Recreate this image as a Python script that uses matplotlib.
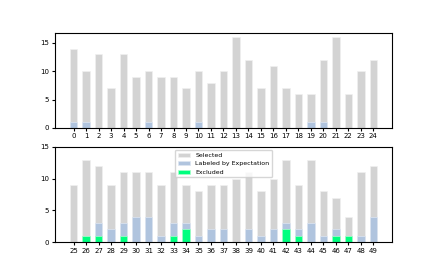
import matplotlib
matplotlib.use('Agg')
import matplotlib.pyplot as plt
import numpy as np

## data
ids_top = list(range(0, 25))
selected_top = [14, 10, 13, 7, 13, 9, 10, 9, 9, 7, 10, 8, 10, 16, 12, 7, 11, 7, 6, 6, 12, 16, 6, 10, 12]
expect_top = [1, 1, 0, 0, 0, 0, 1, 0, 0, 0, 1, 0, 0, 0, 0, 0, 0, 0, 0, 1, 1, 0, 0, 0, 0]
excluded_top = [0] * 25

ids_bot = list(range(25, 50))
selected_bot = [9, 13, 12, 9, 11, 11, 11, 9, 11, 9, 8, 9, 9, 10, 11, 8, 10, 13, 9, 13, 8, 7, 4, 11, 12]
expect_bot = [0, 1, 3, 2, 3, 4, 4, 1, 3, 3, 1, 2, 2, 0, 2, 1, 2, 3, 2, 3, 1, 2, 1, 1, 4]
excluded_bot = [0, 1, 1, 0, 1, 0, 0, 0, 1, 2, 0, 0, 0, 0, 0, 0, 0, 2, 1, 0, 0, 1, 1, 0, 0]

plt.rcParams['font.size'] = 5

fig, (ax1, ax2) = plt.subplots(2, 1, figsize=(4.36, 2.72), dpi=100)

for ax, ids, sel, exp, exc in [(ax1, ids_top, selected_top, expect_top, excluded_top),
                               (ax2, ids_bot, selected_bot, expect_bot, excluded_bot)]:
    x = np.arange(len(ids))
    ax.bar(x, sel, width=0.6, color='lightgray', edgecolor='#f0f0f0', linewidth=0.5, label='Selected')
    ax.bar(x, exp, width=0.6, color='lightsteelblue', edgecolor='#dde6f2', linewidth=0.5, label='Labeled by Expectation')
    ax.bar(x, exc, width=0.6, color='springgreen', edgecolor='#aaffcc', linewidth=0.5, label='Excluded')
    ax.set_xticks(x)
    ax.set_xticklabels([str(i) for i in ids])
    ax.set_yticks([0, 5, 10, 15])
    ax.tick_params(labelsize=5, length=2.5, pad=1.5)

ax2.set_ylim(0, 15)
ax2.legend(loc='upper center', fontsize=4.5, framealpha=0.8)

fig.savefig('out.png', dpi=100)
